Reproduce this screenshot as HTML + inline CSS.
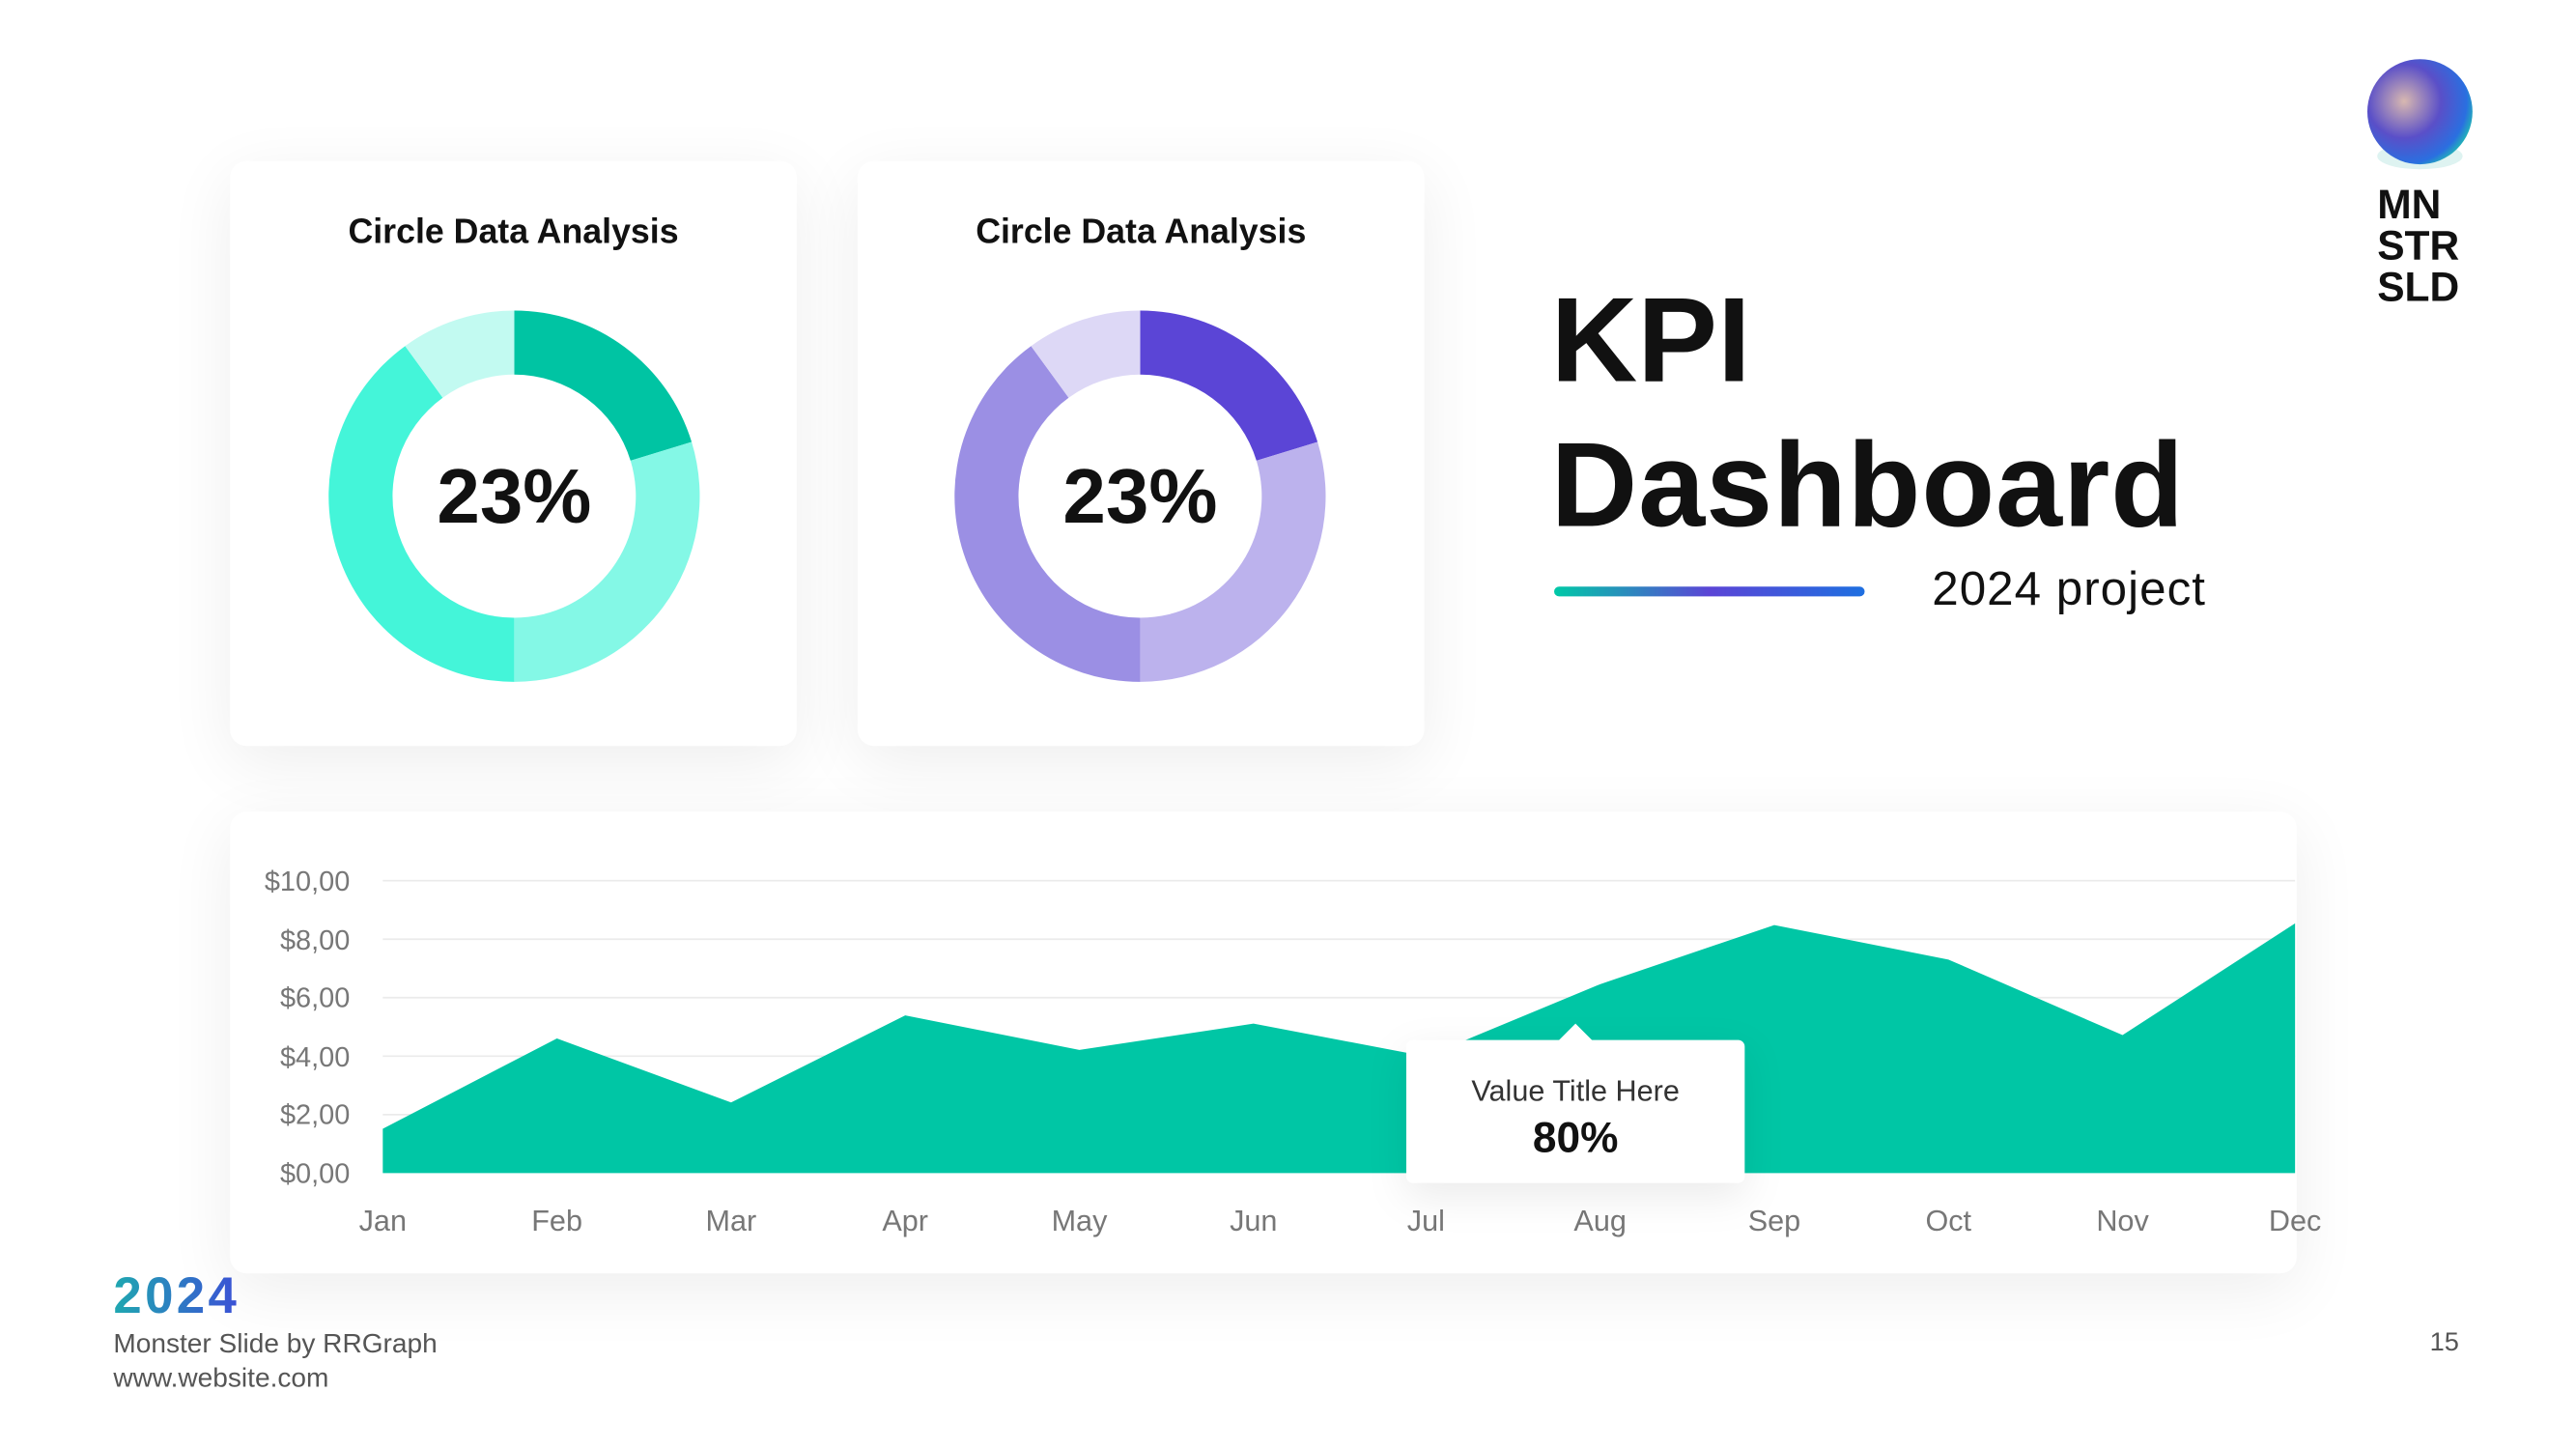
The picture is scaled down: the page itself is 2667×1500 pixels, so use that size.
<!DOCTYPE html>
<html><head><meta charset="utf-8"><style>
html,body{margin:0;padding:0;background:#fff;overflow:hidden}
#w{width:1568px;height:882px;transform:scale(1.70089);transform-origin:0 0;position:relative;font-family:"Liberation Sans","DejaVu Sans",sans-serif;background:#fff}
.card{position:absolute;background:#fff;border-radius:10px;box-shadow:0 10px 40px rgba(0,0,0,0.07)}
.t{position:absolute;white-space:nowrap}
</style></head><body><div id="w">
<div class="card" style="left:140px;top:98px;width:345px;height:356px"></div>
<div class="card" style="left:522px;top:98px;width:345px;height:356px"></div>
<div class="card" style="left:140px;top:494px;width:1258px;height:281px"></div>
<div class="t" style="left:140px;width:345px;text-align:center;top:130px;font-size:21px;font-weight:bold;color:#111">Circle Data Analysis</div>
<div class="t" style="left:522px;width:345px;text-align:center;top:130px;font-size:21px;font-weight:bold;color:#111">Circle Data Analysis</div>
<svg style="position:absolute;left:0;top:0" width="1568" height="882">
<g transform="translate(313,302)">
<path d="M0,-113 A113,113 0 0 1 108,-33 L70.8,-21.6 A74,74 0 0 0 0,-74Z" fill="#00c4a3"/>
<path d="M108,-33 A113,113 0 0 1 0,113 L0,74 A74,74 0 0 0 70.8,-21.6Z" fill="#84f8e6"/>
<path d="M0,113 A113,113 0 0 1 -66.4,-91.4 L-43.5,-59.9 A74,74 0 0 0 0,74Z" fill="#44f5d9"/>
<path d="M-66.4,-91.4 A113,113 0 0 1 0,-113 L0,-74 A74,74 0 0 0 -43.5,-59.9Z" fill="#c2faf1"/>
</g>
<g transform="translate(694,302)">
<path d="M0,-113 A113,113 0 0 1 108,-33 L70.8,-21.6 A74,74 0 0 0 0,-74Z" fill="#5b45d6"/>
<path d="M108,-33 A113,113 0 0 1 0,113 L0,74 A74,74 0 0 0 70.8,-21.6Z" fill="#bcb2ed"/>
<path d="M0,113 A113,113 0 0 1 -66.4,-91.4 L-43.5,-59.9 A74,74 0 0 0 0,74Z" fill="#9b8fe4"/>
<path d="M-66.4,-91.4 A113,113 0 0 1 0,-113 L0,-74 A74,74 0 0 0 -43.5,-59.9Z" fill="#ddd8f6"/>
</g>
<text x="313" y="318" text-anchor="middle" font-size="47" font-weight="bold" fill="#111" font-family="Liberation Sans,sans-serif">23%</text>
<text x="694" y="318" text-anchor="middle" font-size="47" font-weight="bold" fill="#111" font-family="Liberation Sans,sans-serif">23%</text>
<defs>
<linearGradient id="g1" x1="0" x2="1"><stop offset="0" stop-color="#00c9a7"/><stop offset="0.5" stop-color="#5b45d6"/><stop offset="1" stop-color="#1e6fe0"/></linearGradient>
<radialGradient id="g2" cx="0.35" cy="0.4" r="0.7"><stop offset="0" stop-color="#d8b8b0"/><stop offset="0.5" stop-color="#5a4fc8"/><stop offset="0.85" stop-color="#2a6fe0"/><stop offset="1" stop-color="#20c0b0"/></radialGradient>
<linearGradient id="g3" x1="0" x2="1"><stop offset="0" stop-color="#1fa8b0"/><stop offset="1" stop-color="#3b4fd6"/></linearGradient>
</defs>
<rect x="946" y="357" width="189" height="6" rx="3" fill="url(#g1)"/>
<ellipse cx="1473" cy="95" rx="26" ry="8" fill="#20b0a0" opacity="0.15"/>
<circle cx="1473" cy="68" r="32" fill="url(#g2)"/>
<g stroke="#ebebeb" stroke-width="1">
<line x1="233" y1="536" x2="1397" y2="536"/><line x1="233" y1="571.6" x2="1397" y2="571.6"/><line x1="233" y1="607.2" x2="1397" y2="607.2"/><line x1="233" y1="642.8" x2="1397" y2="642.8"/><line x1="233" y1="678.4" x2="1397" y2="678.4"/>
</g>
<polygon fill="#00c6a5" points="233,714 233,687 339,632 445,671 551,618 657,639 763,623 868,643 974,599 1080,563 1186,584 1292,630 1397,562 1397,714"/>
<g font-size="17" fill="#777" text-anchor="end" font-family="Liberation Sans,sans-serif">
<text x="213" y="542">$10,00</text><text x="213" y="578">$8,00</text><text x="213" y="613">$6,00</text><text x="213" y="649">$4,00</text><text x="213" y="684">$2,00</text><text x="213" y="720">$0,00</text>
</g>
<g font-size="18" fill="#777" text-anchor="middle" font-family="Liberation Sans,sans-serif">
<text x="233" y="749">Jan</text><text x="339" y="749">Feb</text><text x="445" y="749">Mar</text><text x="551" y="749">Apr</text><text x="657" y="749">May</text><text x="763" y="749">Jun</text><text x="868" y="749">Jul</text><text x="974" y="749">Aug</text><text x="1080" y="749">Sep</text><text x="1186" y="749">Oct</text><text x="1292" y="749">Nov</text><text x="1397" y="749">Dec</text>
</g>
<rect x="856" y="633" width="206" height="87" rx="4" fill="#fff" style="filter:drop-shadow(0 8px 12px rgba(0,0,0,0.08))"/>
<polygon points="948,634 959,623 970,634" fill="#fff"/>
<text x="959" y="670" text-anchor="middle" font-size="18" fill="#333" font-family="Liberation Sans,sans-serif">Value Title Here</text>
<text x="959" y="701" text-anchor="middle" font-size="26" font-weight="bold" fill="#111" font-family="Liberation Sans,sans-serif">80%</text>
<text x="69" y="799" font-size="31" font-weight="bold" fill="url(#g3)" letter-spacing="2" font-family="Liberation Sans,sans-serif">2024</text>
</svg>
<div class="t" style="left:944px;top:168px;font-size:73px;font-weight:bold;color:#111;letter-spacing:0px;line-height:80px">KPI</div>
<div class="t" style="left:944px;top:256px;font-size:73px;font-weight:bold;color:#111;letter-spacing:0.5px;line-height:80px">Dashboard</div>
<div class="t" style="left:1176px;top:343px;font-size:29px;color:#111;letter-spacing:0.6px">2024 project</div>
<div class="t" style="left:1447px;top:113px;font-size:25px;font-weight:bold;color:#111;line-height:25px">MN<br>STR<br>SLD</div>
<div class="t" style="left:69px;top:808px;font-size:16.5px;color:#555;line-height:21px">Monster Slide by RRGraph<br>www.website.com</div>
<div class="t" style="left:1479px;top:809px;font-size:16px;color:#555">15</div>
</div></body></html>
